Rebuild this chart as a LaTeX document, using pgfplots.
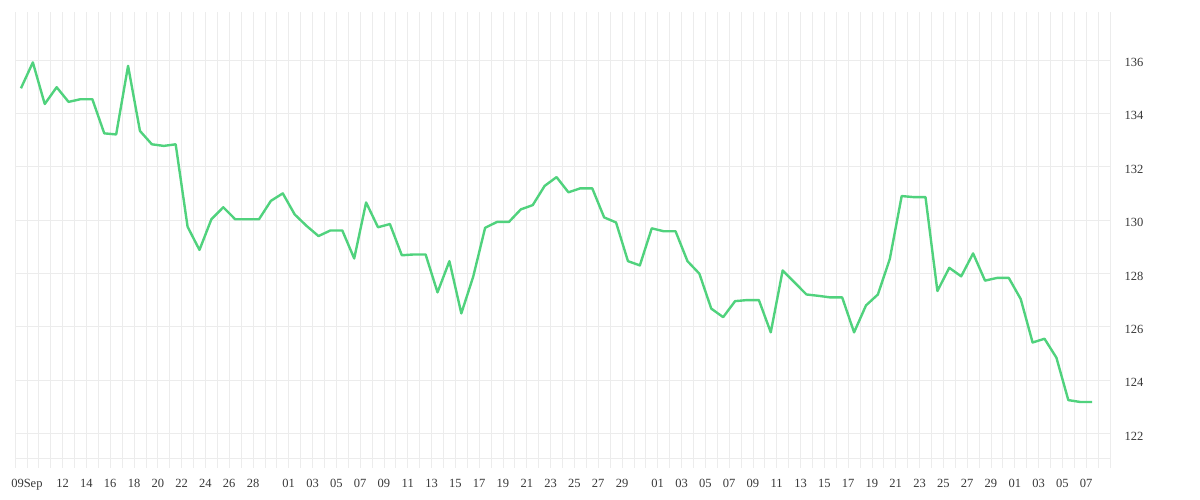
\documentclass[border=0pt]{standalone}
\usepackage{pgfplots}
\pgfplotsset{compat=1.18}
\usepackage{fontspec}
\setmainfont{Liberation Serif}
\definecolor{gridc}{RGB}{236,236,236}
\definecolor{linec}{RGB}{80,210,125}
\definecolor{txt}{RGB}{55,55,55}
\begin{document}
\begin{tikzpicture}[x=1pt,y=1pt]
\path[use as bounding box] (0,0) rectangle (1200,500);
\begin{axis}[
  at={(15pt,42pt)}, anchor=south west,
  scale only axis, width=1095pt, height=446pt,
  xmin=-1, xmax=91, ymin=121.08, ymax=137.8,
  axis x line*=bottom, axis y line*=right,
  axis line style={gridc, line width=0.8pt, -},
  xtick={-1,0,...,91}, xticklabels={},
  major tick length=10pt, tick align=outside,
  xtick style={gridc, line width=0.8pt},
  xmajorgrids, ymajorgrids,
  major grid style={gridc, line width=0.8pt},
  ytick={122,124,...,136},
  ytick style={draw=none},
  yticklabel pos=right,
  yticklabel style={anchor=west, xshift=1pt, yshift=-2.5pt, font=\fontsize{12.5}{14}\selectfont, text=txt},
  /pgf/number format/assume math mode=true,
  extra x ticks={0,3,5,7,9,11,13,15,17,19,22,24,26,28,30,32,34,36,38,40,42,44,46,48,50,53,55,57,59,61,63,65,67,69,71,73,75,77,79,81,83,85,87,89},
  extra x tick labels={09Sep,12,14,16,18,20,22,24,26,28,01,03,05,07,09,11,13,15,17,19,21,23,25,27,29,01,03,05,07,09,11,13,15,17,19,21,23,25,27,29,01,03,05,07},
  extra x tick style={grid=none, major tick length=0pt, xticklabel style={anchor=north, yshift=-18pt, font=\fontsize{12.5}{14}\selectfont, text=txt}},
  clip=false,
]
\addplot[linec, line width=2.4pt, line join=round] table[x=x, y=y] {
x y
-0.5 134.94
0.5 135.91
1.5 134.35
2.5 134.98
3.5 134.43
4.5 134.53
5.5 134.53
6.5 133.25
7.5 133.21
8.5 135.78
9.5 133.34
10.5 132.84
11.5 132.78
12.5 132.84
13.5 129.75
14.5 128.88
15.5 130.03
16.5 130.48
17.5 130.03
18.5 130.03
19.5 130.03
20.5 130.72
21.5 131.00
22.5 130.21
23.5 129.78
24.5 129.40
25.5 129.61
26.5 129.61
27.5 128.56
28.5 130.66
29.5 129.73
30.5 129.85
31.5 128.68
32.5 128.71
33.5 128.71
34.5 127.29
35.5 128.46
36.5 126.50
37.5 127.88
38.5 129.71
39.5 129.93
40.5 129.93
41.5 130.40
42.5 130.56
43.5 131.28
44.5 131.61
45.5 131.04
46.5 131.19
47.5 131.19
48.5 130.10
49.5 129.91
50.5 128.46
51.5 128.30
52.5 129.69
53.5 129.58
54.5 129.58
55.5 128.46
56.5 127.99
57.5 126.68
58.5 126.36
59.5 126.96
60.5 127.00
61.5 127.00
62.5 125.79
63.5 128.11
64.5 127.66
65.5 127.21
66.5 127.16
67.5 127.10
68.5 127.10
69.5 125.79
70.5 126.80
71.5 127.21
72.5 128.54
73.5 130.90
74.5 130.86
75.5 130.86
76.5 127.34
77.5 128.21
78.5 127.89
79.5 128.75
80.5 127.73
81.5 127.83
82.5 127.83
83.5 127.04
84.5 125.41
85.5 125.55
86.5 124.84
87.5 123.25
88.5 123.18
89.5 123.18
};
\end{axis}
\end{tikzpicture}
\end{document}
